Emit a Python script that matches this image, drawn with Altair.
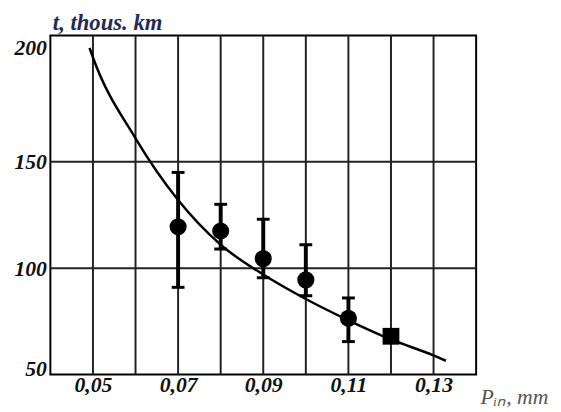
import altair as alt
import pandas as pd

# fitted curve
curve_p = [0.0492, 0.05, 0.06, 0.07, 0.08, 0.09, 0.10, 0.11, 0.12, 0.13, 0.1329]
curve_t = [203.5, 199, 161, 132, 111, 97, 85.5, 75.5, 66.5, 59, 56.5]

# measured points with error bars
pts_p = [0.07, 0.08, 0.09, 0.10, 0.11]
pts_t = [119.5, 117.5, 104.5, 94.5, 76.5]
pts_lo = [91, 109, 95.5, 87, 65.5]
pts_hi = [145, 130, 123, 111, 86]

# square point
sq_p = [0.12]
sq_t = [68]

grid_x = [0.05, 0.06, 0.07, 0.08, 0.09, 0.10, 0.11, 0.12, 0.13]
grid_y = [100, 150]
tick_x = [0.05, 0.07, 0.09, 0.11, 0.13]
tick_y = [50, 100, 150, 200]

curve_df = pd.DataFrame({"P": curve_p, "t": curve_t})
pts_df = pd.DataFrame({"P": pts_p, "t": pts_t, "lo": pts_lo, "hi": pts_hi})
sq_df = pd.DataFrame({"P": sq_p, "t": sq_t})
gx_df = pd.DataFrame({"P": grid_x})
gy_df = pd.DataFrame({"t": grid_y})

FONT = "Liberation Serif"
xs = alt.Scale(domain=[0.04, 0.14], nice=False, zero=False)
ys = alt.Scale(domain=[50, 209.3], nice=False, zero=False)

xaxis = alt.Axis(
    values=tick_x,
    labelExpr="replace(format(datum.value, '.2f'), '.', ',')",
    ticks=False, domain=False, grid=False,
    labelFont=FONT, labelFontSize=22, labelFontWeight="bold", labelFontStyle="italic",
    labelColor="#111", labelPadding=0,
    title="P\u1d62\u2099, mm", titleFont=FONT, titleFontSize=22, titleFontStyle="italic",
    titleFontWeight="normal", titleColor="#555",
    titleX=436, titleY=29, titleAlign="left", titleBaseline="alphabetic", titleAnchor="start",
)
yaxis = alt.Axis(
    values=tick_y,
    ticks=False, domain=False, grid=False,
    labelFont=FONT, labelFontSize=22, labelFontWeight="bold", labelFontStyle="italic",
    labelColor="#111", labelPadding=4,
    labelOffset=alt.ExprRef("datum.value == 200 ? -8 : (datum.value == 50 ? -6 : 0)"),
    title="t, thous. km", titleFont=FONT, titleFontSize=23, titleFontStyle="italic",
    titleFontWeight="bold", titleColor="#1f2a5a",
    titleAngle=0, titleX=2, titleY=-6, titleAlign="left", titleBaseline="alphabetic",
)

X = alt.X("P:Q", scale=xs, axis=xaxis)
Y = alt.Y("t:Q", scale=ys, axis=yaxis)

vgrid = alt.Chart(gx_df).mark_rule(color="#222", strokeWidth=2).encode(x=X)
hgrid = alt.Chart(gy_df).mark_rule(color="#222", strokeWidth=2).encode(y=Y)

curve = alt.Chart(curve_df).mark_line(
    color="black", strokeWidth=2.5, interpolate="monotone"
).encode(x=X, y=Y)

bars = alt.Chart(pts_df).mark_rule(color="black", strokeWidth=4).encode(
    x=X, y=alt.Y("lo:Q", scale=ys, axis=yaxis), y2="hi:Q"
)
cap_lo = alt.Chart(pts_df).mark_tick(
    color="black", orient="horizontal", size=13, thickness=3, opacity=1
).encode(x=X, y=alt.Y("lo:Q", scale=ys, axis=yaxis))
cap_hi = alt.Chart(pts_df).mark_tick(
    color="black", orient="horizontal", size=13, thickness=3, opacity=1
).encode(x=X, y=alt.Y("hi:Q", scale=ys, axis=yaxis))

points = alt.Chart(pts_df).mark_circle(color="black", size=300, opacity=1).encode(x=X, y=Y)
square = alt.Chart(sq_df).mark_square(color="black", size=290, opacity=1).encode(x=X, y=Y)

chart = alt.layer(vgrid, hgrid, curve, bars, cap_lo, cap_hi, points, square).properties(
    width=432, height=344,
    autosize=alt.AutoSizeParams(type="none"),
    padding={"left": 43, "top": 25, "right": 78, "bottom": 35},
    background="white",
).configure_view(stroke="black", strokeWidth=2)

chart.save("out.html", embed_options={"renderer": "svg", "actions": False})
